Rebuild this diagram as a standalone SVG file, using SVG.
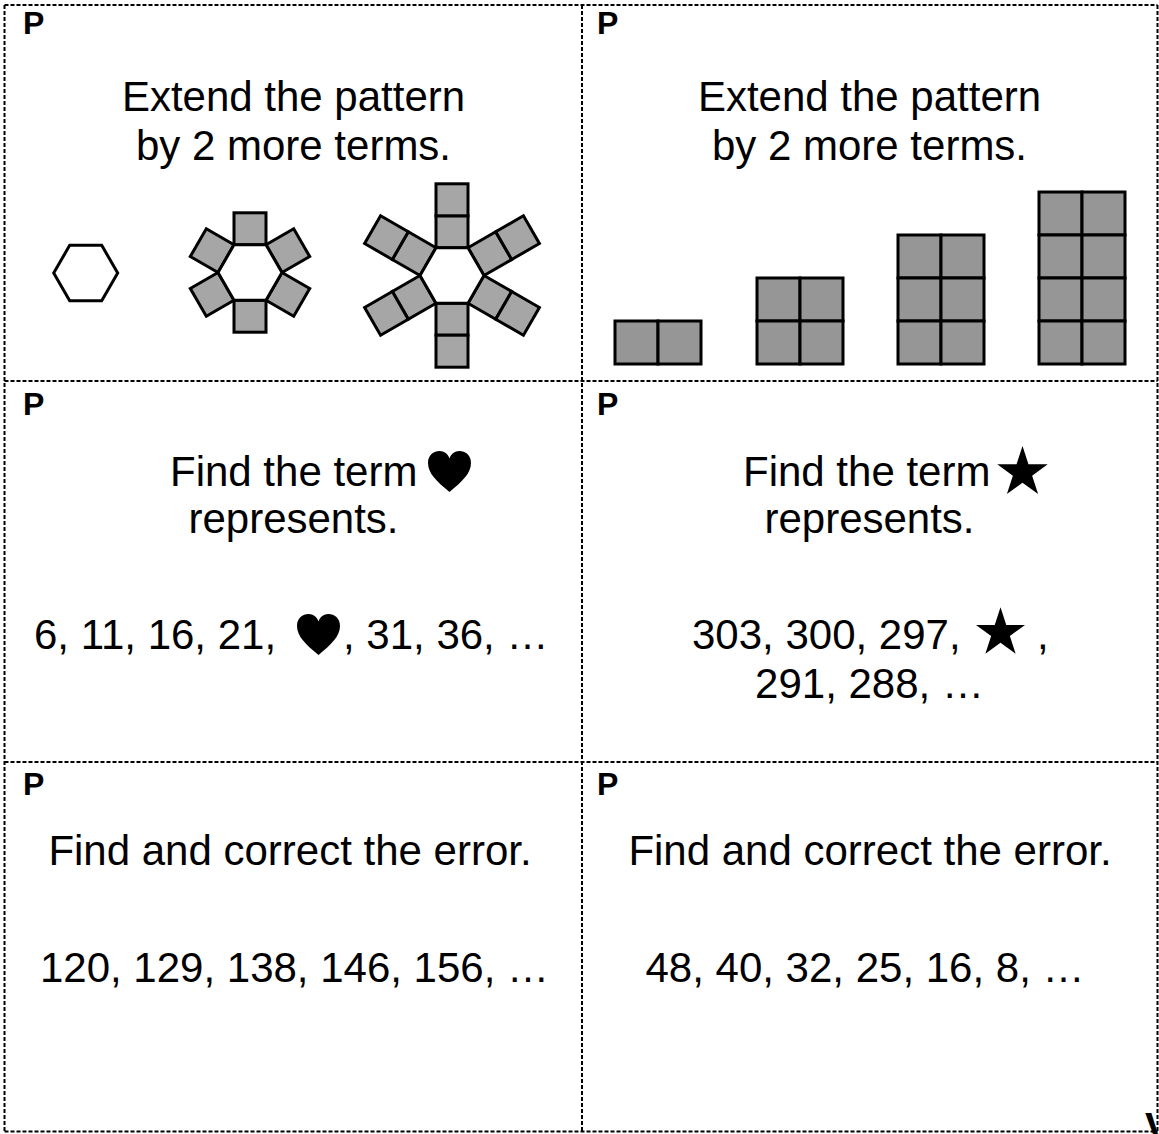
<svg xmlns="http://www.w3.org/2000/svg" xmlns:xlink="http://www.w3.org/1999/xlink" width="1159" height="1134" viewBox="0 0 1159 1134">
<style>
.cut{stroke:#000;stroke-width:2;stroke-dasharray:4 2;fill:none}
.t{font-family:"Liberation Sans",Arial,sans-serif;font-size:42px;fill:#000}
.p{font-family:"Liberation Sans",Arial,sans-serif;font-size:32px;font-weight:bold;fill:#000}
.sq{fill:#a6a6a6;stroke:#000;stroke-width:3}
.bar{fill:#969696;stroke:#000;stroke-width:3}
.hex{fill:#fff;stroke:#000;stroke-width:3;stroke-linejoin:miter}
</style>
<defs>
<symbol id="heart" viewBox="0 0 100 95">
<path d="M50,95 C20,70 0,52 0,27 C0,10 13,0 27,0 C38,0 46,7 50,17 C54,7 62,0 73,0 C87,0 100,10 100,27 C100,52 80,70 50,95 Z" fill="#000"/>
</symbol>
<symbol id="star" viewBox="-47.55 -50 95.1 90.45">
<polygon points="0,-50 11.23,-15.45 47.55,-15.45 18.17,5.9 29.39,40.45 0,19.1 -29.39,40.45 -18.17,5.9 -47.55,-15.45 -11.23,-15.45" fill="#000"/>
</symbol>
</defs>
<rect width="1159" height="1134" fill="#fff"/>
<g id="connectors">
<line class="cut" x1="4.5" y1="5" x2="1157.5" y2="5"/>
<line class="cut" x1="4.5" y1="5" x2="4.5" y2="1131.5"/>
<line class="cut" x1="1157.5" y1="5" x2="1157.5" y2="1131.5"/>
<line class="cut" x1="4.5" y1="1131.5" x2="1157.5" y2="1131.5"/>
<line class="cut" x1="582" y1="5" x2="582" y2="1131.5"/>
<line class="cut" x1="4.5" y1="381" x2="1157.5" y2="381"/>
<line class="cut" x1="4.5" y1="762" x2="1157.5" y2="762"/>
</g>
<g id="card1">
<text class="p" x="23" y="34">P</text>
<text class="t" x="293.5" y="111" text-anchor="middle">Extend the pattern</text>
<text class="t" x="293.5" y="160" text-anchor="middle">by 2 more terms.</text>
<polygon class="hex" points="117.7,273 101.7,300.7 69.7,300.7 53.7,273 69.7,245.3 101.7,245.3"/>
<g id="fig2">
<rect class="sq" x="234" y="212.8" width="32" height="32"/>
<rect class="sq" x="234" y="212.8" width="32" height="32" transform="rotate(60 250 272.5)"/>
<rect class="sq" x="234" y="212.8" width="32" height="32" transform="rotate(120 250 272.5)"/>
<rect class="sq" x="234" y="212.8" width="32" height="32" transform="rotate(180 250 272.5)"/>
<rect class="sq" x="234" y="212.8" width="32" height="32" transform="rotate(240 250 272.5)"/>
<rect class="sq" x="234" y="212.8" width="32" height="32" transform="rotate(300 250 272.5)"/>
<polygon class="hex" points="282,272.5 266,300.2 234,300.2 218,272.5 234,244.8 266,244.8"/>
</g>
<g id="fig3">
<g id="arm">
<rect class="sq" x="436" y="215.8" width="32" height="32"/>
<rect class="sq" x="436" y="183.8" width="32" height="32"/>
</g>
<use xlink:href="#arm" href="#arm" transform="rotate(60 452 275.5)"/>
<use xlink:href="#arm" href="#arm" transform="rotate(120 452 275.5)"/>
<use xlink:href="#arm" href="#arm" transform="rotate(180 452 275.5)"/>
<use xlink:href="#arm" href="#arm" transform="rotate(240 452 275.5)"/>
<use xlink:href="#arm" href="#arm" transform="rotate(300 452 275.5)"/>
<polygon class="hex" points="484,275.5 468,303.2 436,303.2 420,275.5 436,247.8 468,247.8"/>
</g>
</g>
<g id="card2">
<text class="p" x="597" y="34">P</text>
<text class="t" x="869.5" y="111" text-anchor="middle">Extend the pattern</text>
<text class="t" x="869.5" y="160" text-anchor="middle">by 2 more terms.</text>
<rect class="bar" x="615" y="321" width="43" height="43"/>
<rect class="bar" x="658" y="321" width="43" height="43"/>
<rect class="bar" x="757" y="278" width="43" height="43"/>
<rect class="bar" x="800" y="278" width="43" height="43"/>
<rect class="bar" x="757" y="321" width="43" height="43"/>
<rect class="bar" x="800" y="321" width="43" height="43"/>
<rect class="bar" x="898" y="235" width="43" height="43"/>
<rect class="bar" x="941" y="235" width="43" height="43"/>
<rect class="bar" x="898" y="278" width="43" height="43"/>
<rect class="bar" x="941" y="278" width="43" height="43"/>
<rect class="bar" x="898" y="321" width="43" height="43"/>
<rect class="bar" x="941" y="321" width="43" height="43"/>
<rect class="bar" x="1039" y="192" width="43" height="43"/>
<rect class="bar" x="1082" y="192" width="43" height="43"/>
<rect class="bar" x="1039" y="235" width="43" height="43"/>
<rect class="bar" x="1082" y="235" width="43" height="43"/>
<rect class="bar" x="1039" y="278" width="43" height="43"/>
<rect class="bar" x="1082" y="278" width="43" height="43"/>
<rect class="bar" x="1039" y="321" width="43" height="43"/>
<rect class="bar" x="1082" y="321" width="43" height="43"/>
</g>
<g id="card3">
<text class="p" x="23" y="415">P</text>
<text class="t" x="170" y="486">Find the term</text>
<use href="#heart" xlink:href="#heart" x="428" y="451" width="43" height="41"/>
<text class="t" x="293.5" y="533" text-anchor="middle">represents.</text>
<text class="t" x="34" y="649">6, 11, 16, 21,</text>
<use href="#heart" xlink:href="#heart" x="297" y="614" width="43" height="41"/>
<text class="t" x="343" y="649">, 31, 36, …</text>
</g>
<g id="card4">
<text class="p" x="597" y="415">P</text>
<text class="t" x="743" y="486">Find the term</text>
<use href="#star" xlink:href="#star" x="997" y="446" width="51" height="48"/>
<text class="t" x="869.5" y="533" text-anchor="middle">represents.</text>
<text class="t" x="692" y="649">303, 300, 297,</text>
<use href="#star" xlink:href="#star" x="976" y="607" width="49" height="47"/>
<text class="t" x="1037" y="649">,</text>
<text class="t" x="869.5" y="698" text-anchor="middle">291, 288, …</text>
</g>
<g id="card5">
<text class="p" x="23" y="795">P</text>
<text class="t" x="290" y="865" text-anchor="middle">Find and correct the error.</text>
<text class="t" x="294.5" y="982" text-anchor="middle">120, 129, 138, 146, 156, …</text>
</g>
<g id="card6">
<text class="p" x="597" y="795">P</text>
<text class="t" x="870" y="865" text-anchor="middle">Find and correct the error.</text>
<text class="t" x="865" y="982" text-anchor="middle">48, 40, 32, 25, 16, 8, …</text>
<text x="1145" y="1141" style="font-family:'Liberation Sans',Arial,sans-serif;font-size:40px;font-weight:bold">V</text>
</g>
</svg>
